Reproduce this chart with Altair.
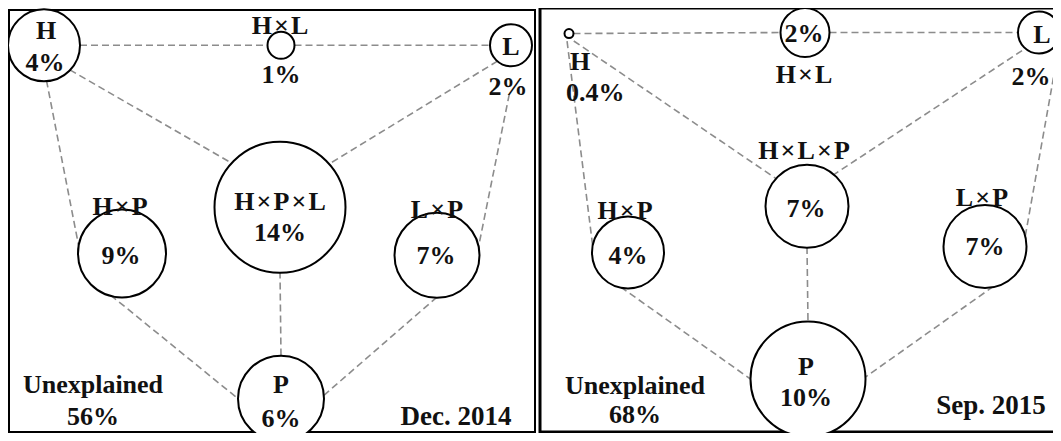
import math
import altair as alt
import pandas as pd

# ---------------- data ----------------
PERIODS = ["Dec. 2014", "Sep. 2015"]
NODE_KEYS = ["H", "L", "HxL", "HxP", "LxP", "HxPxL", "P"]
NODE_TITLES = {
    "Dec. 2014": ["H", "L", "H×L", "H×P", "L×P", "H×P×L", "P"],
    "Sep. 2015": ["H", "L", "H×L", "H×P", "L×P", "H×L×P", "P"],
}
SHARES = {
    "Dec. 2014": ["4%", "2%", "1%", "9%", "7%", "14%", "6%"],
    "Sep. 2015": ["0.4%", "2%", "2%", "4%", "7%", "7%", "10%"],
}
UNEXPLAINED = {"Dec. 2014": "56%", "Sep. 2015": "68%"}
EDGES = [("H", "HxL"), ("HxL", "L"), ("H", "HxPxL"), ("L", "HxPxL"),
         ("H", "HxP"), ("L", "LxP"), ("HxP", "P"), ("LxP", "P"), ("HxPxL", "P")]

# ---------------- layout (pixel space of the figure) ----------------
NODE_LAYOUT = {  # centre x, centre y, radius
    "Dec. 2014": {"H": (44, 46, 36), "L": (511, 46, 21), "HxL": (281, 46, 13.5),
                  "HxP": (122, 258, 44), "LxP": (437, 260, 42.5),
                  "HxPxL": (280, 211, 65.5), "P": (281, 406, 43)},
    "Sep. 2015": {"H": (569, 34, 4.5), "L": (1039, 33, 21), "HxL": (805, 33, 24.5),
                  "HxP": (628, 257, 36), "LxP": (985, 251, 41.5),
                  "HxPxL": (807, 210, 41.5), "P": (808, 386, 57.5)},
}
EDGE_ANGLES = {  # (angle at start node, angle at end node, gap at start or None)
    "Dec. 2014": [(0, 180, None), (0, 180, None), (44, -137, None), (130, -42, None),
                  (86, 190, None), (92, -12, 50), (105, 180, None), (90, -4.5, None),
                  (90, -90, None)],
    "Sep. 2015": [(0, 180, None), (0, 180, None), (58, -137.6, 9), (132.7, -50.4, 25),
                  (104, 191, 8), (52.3, -14.3, 30), (101.6, 180, None), (78.3, -2, None),
                  (90, -90, None)],
}
TITLE_POS = {
    "Dec. 2014": {"H": (46, 31), "L": (511, 48), "HxL": (280, 26), "HxP": (120, 211),
                  "LxP": (437, 214), "HxPxL": (280, 206), "P": (281, 392)},
    "Sep. 2015": {"H": (570, 63), "L": (1042, 35), "HxL": (804, 76), "HxP": (625, 215),
                  "LxP": (982, 202), "HxPxL": (804, 154), "P": (806, 374)},
}
SHARE_POS = {
    "Dec. 2014": {"H": (45, 64), "L": (508, 88), "HxL": (281, 76), "HxP": (121, 261),
                  "LxP": (436, 261), "HxPxL": (280, 237), "P": (281, 427)},
    "Sep. 2015": {"H": (566, 95), "L": (1031, 78), "HxL": (804, 34), "HxP": (628, 261),
                  "LxP": (985, 252), "HxPxL": (806, 213), "P": (806, 405)},
}
LEFT_ALIGNED = {"Sep. 2015": ["H"]}
UNEXP_POS = {"Dec. 2014": ((93, 392), (93, 425)), "Sep. 2015": ((635, 393), (635, 423))}
PERIOD_POS = {"Dec. 2014": (456, 425), "Sep. 2015": (991, 413)}
FRAMES = {"Dec. 2014": (9, 535, 10, 440, 2), "Sep. 2015": (540, 1070, 8, 440, 3)}
LABEL_SIZE = 26
PERIOD_SIZE = 27

WIDE_X = "\u200a×\u200a"

nodes, edges, labels, frames = [], [], [], []
for per in PERIODS:
    lay = NODE_LAYOUT[per]
    for i, k in enumerate(NODE_KEYS):
        cx, cy, r = lay[k]
        nodes.append({"x": cx, "y": cy, "size": 4 * r * r})
        al = "left" if k in LEFT_ALIGNED.get(per, []) else "center"
        tx, ty = TITLE_POS[per][k]
        labels.append({"text": NODE_TITLES[per][i].replace("×", WIDE_X), "x": tx, "y": ty,
                       "fs": LABEL_SIZE, "align": al})
        sx, sy = SHARE_POS[per][k]
        labels.append({"text": SHARES[per][i], "x": sx, "y": sy, "fs": LABEL_SIZE, "align": al})
    for (a, b), (aa, ab, gap) in zip(EDGES, EDGE_ANGLES[per]):
        ax, ay, ar = lay[a]
        bx, by, br = lay[b]
        ga = gap if gap is not None else ar
        edges.append({
            "x": ax + ga * math.cos(math.radians(aa)), "y": ay + ga * math.sin(math.radians(aa)),
            "x2": bx + br * math.cos(math.radians(ab)), "y2": by + br * math.sin(math.radians(ab)),
        })
    (ux, uy), (vx, vy) = UNEXP_POS[per]
    labels.append({"text": "Unexplained", "x": ux, "y": uy, "fs": LABEL_SIZE, "align": "center"})
    labels.append({"text": UNEXPLAINED[per], "x": vx, "y": vy, "fs": LABEL_SIZE, "align": "center"})
    px, py = PERIOD_POS[per]
    labels.append({"text": per, "x": px, "y": py, "fs": PERIOD_SIZE, "align": "center"})
    x0, x1, y0, y1, sw = FRAMES[per]
    frames.append({"x": x0, "x2": x1, "y": y0, "y2": y1, "sw": sw})

nodes = pd.DataFrame(nodes)
edges = pd.DataFrame(edges)
labels = pd.DataFrame(labels)
frames = pd.DataFrame(frames)

W, H = 1045, 425
xs = alt.Scale(domain=[8, 8 + W], nice=False, zero=False)
ys = alt.Scale(domain=[8, 441], nice=False, zero=False, reverse=True)

X = lambda f: alt.X(f, scale=xs, axis=None)
Y = lambda f: alt.Y(f, scale=ys, axis=None)

frame_layer = alt.Chart(frames).mark_rect(fillOpacity=0, stroke="black").encode(
    x=X("x:Q"), x2="x2:Q", y=Y("y:Q"), y2="y2:Q",
    strokeWidth=alt.StrokeWidth("sw:Q", scale=None),
)
edge_layer = alt.Chart(edges).mark_rule(
    color="#8c8c8c", strokeWidth=1.6, strokeDash=[7, 4]
).encode(x=X("x:Q"), y=Y("y:Q"), x2="x2:Q", y2="y2:Q")
node_layer = alt.Chart(nodes).mark_circle(
    fill="white", stroke="black", strokeWidth=2, opacity=1, fillOpacity=1
).encode(x=X("x:Q"), y=Y("y:Q"), size=alt.Size("size:Q", scale=None))

def text_layer(align):
    return alt.Chart(labels[labels["align"] == align]).mark_text(
        font="Liberation Serif", fontWeight="bold", color="#111111",
        align=align, baseline="middle"
    ).encode(x=X("x:Q"), y=Y("y:Q"), text="text:N", size=alt.Size("fs:Q", scale=None))

chart = alt.layer(
    frame_layer, edge_layer, node_layer, text_layer("center"), text_layer("left")
).properties(
    width=W, height=H, padding=0,
    autosize=alt.AutoSizeParams(type="none"),
    background="white",
).configure_view(strokeWidth=0)

chart.save("out.html", embed_options={"renderer": "svg", "actions": False})
